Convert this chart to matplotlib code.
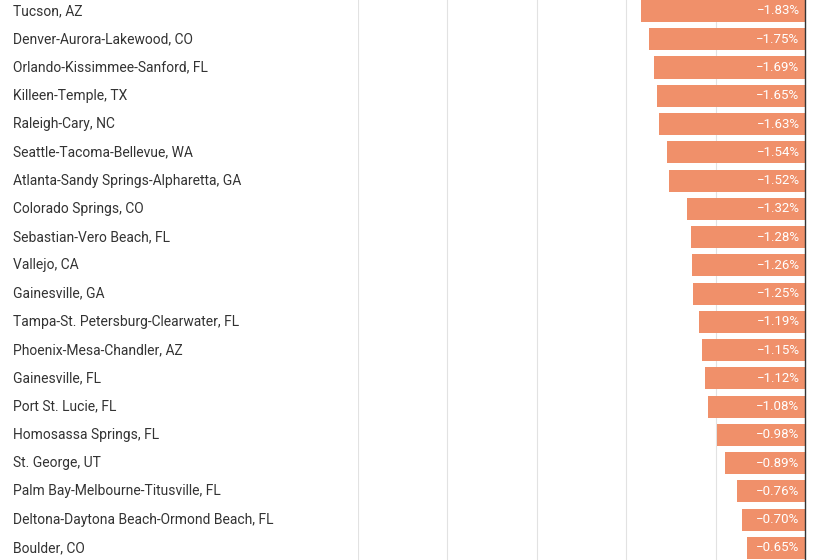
import matplotlib
matplotlib.use("Agg")
import matplotlib.pyplot as plt

metros = ["Tucson, AZ","Denver-Aurora-Lakewood, CO","Orlando-Kissimmee-Sanford, FL","Killeen-Temple, TX",
"Raleigh-Cary, NC","Seattle-Tacoma-Bellevue, WA","Atlanta-Sandy Springs-Alpharetta, GA","Colorado Springs, CO",
"Sebastian-Vero Beach, FL","Vallejo, CA","Gainesville, GA","Tampa-St. Petersburg-Clearwater, FL",
"Phoenix-Mesa-Chandler, AZ","Gainesville, FL","Port St. Lucie, FL","Homosassa Springs, FL","St. George, UT",
"Palm Bay-Melbourne-Titusville, FL","Deltona-Daytona Beach-Ormond Beach, FL","Boulder, CO"]
changes = [-1.83,-1.75,-1.69,-1.65,-1.63,-1.54,-1.52,-1.32,-1.28,-1.26,-1.25,-1.19,-1.15,-1.12,-1.08,-0.98,-0.89,-0.76,-0.70,-0.65]
grid_ticks = [-5,-4,-3,-2,-1]

plt.rcParams['font.family'] = ['Roboto', 'DejaVu Sans']
fig = plt.figure(figsize=(8.18,5.6), dpi=100)
ax = fig.add_axes([358/818, 0, 1-358/818, 1])
ys = list(range(len(metros)))
ax.barh(ys, changes, height=0.78, color='#F0906A', zorder=2)
for y, v in zip(ys, changes):
    ax.text(v*0 - 0.06, y, f"\u2212{abs(v):.2f}%", color='white', ha='right', va='center', fontsize=9.5, zorder=3)
    fig.text(13/818, 1-(11+28.26*y)/560, metros[y], ha='left', va='center', fontsize=10, color='#333333')
for g in grid_ticks:
    ax.axvline(g, color='#e2e2e2', lw=0.8, zorder=1)
ax.axvline(0, color='#333333', lw=1, zorder=4)
ax.set_xlim(-5, 13/89.4)
ax.set_ylim((560-11)/28.26, -11/28.26)
ax.axis('off')
fig.savefig("out.png", dpi=100)
